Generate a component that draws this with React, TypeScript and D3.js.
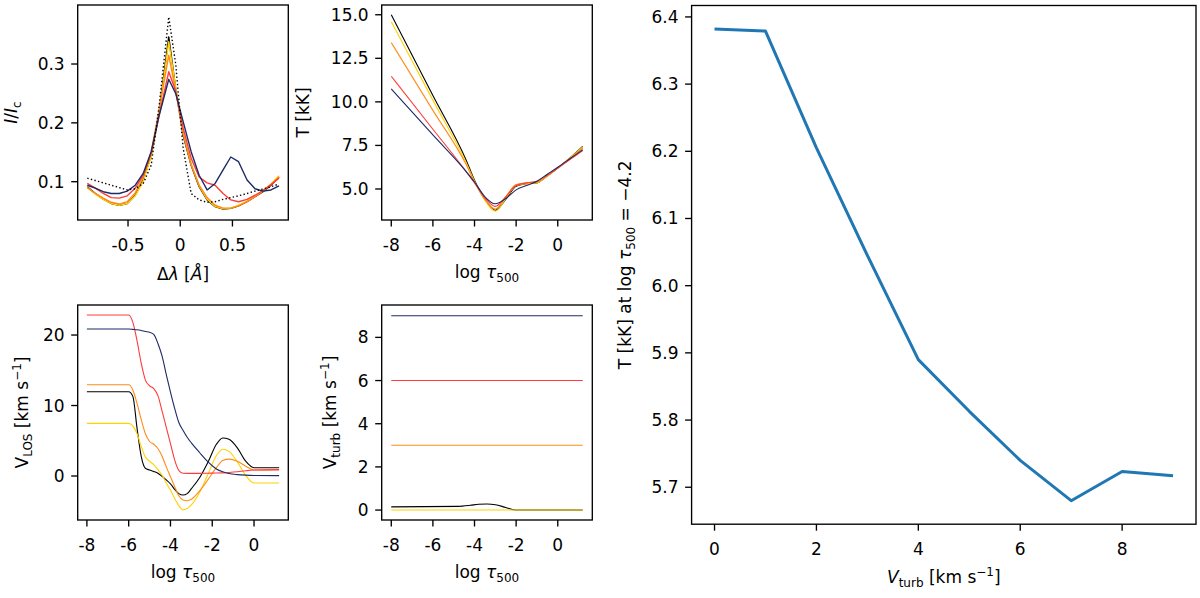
import React from "react";
import * as d3 from "d3";

// ---------- data ----------
const seriesColors = ["#000000", "#FFD200", "#FF8C1A", "#FF3B3B", "#1C2B66"];

// Top-left: line profiles
const wavelengths = [-0.89, -0.8135, -0.737, -0.6605, -0.584, -0.5075, -0.431, -0.3545, -0.278, -0.2015, -0.11, -0.0435, 0.028, 0.1045, 0.181, 0.2575, 0.334, 0.4105, 0.484, 0.5585, 0.64, 0.7165, 0.793, 0.8695, 0.946];
const profObs = [0.106, 0.102, 0.098, 0.094, 0.090, 0.086, 0.088, 0.097, 0.128, 0.230, 0.380, 0.300, 0.157, 0.080, 0.069, 0.065, 0.066, 0.070, 0.073, 0.076, 0.080, 0.084, 0.0875, 0.0915, 0.096];
const profBlack = [0.0915, 0.080, 0.0705, 0.063, 0.060, 0.063, 0.077, 0.103, 0.145, 0.219, 0.346, 0.258, 0.179, 0.128, 0.0915, 0.069, 0.0575, 0.0535, 0.0547, 0.059, 0.066, 0.0745, 0.083, 0.094, 0.1085];
const profYellow = [0.090, 0.079, 0.070, 0.063, 0.060, 0.063, 0.076, 0.101, 0.143, 0.218, 0.338, 0.260, 0.182, 0.130, 0.093, 0.070, 0.058, 0.054, 0.055, 0.060, 0.067, 0.076, 0.085, 0.096, 0.110];
const profOrange = [0.090, 0.080, 0.072, 0.065, 0.062, 0.066, 0.081, 0.108, 0.151, 0.222, 0.315, 0.254, 0.182, 0.129, 0.094, 0.073, 0.060, 0.055, 0.055, 0.059, 0.066, 0.0745, 0.084, 0.095, 0.1085];
const profRed = [0.097, 0.089, 0.080, 0.073, 0.072, 0.076, 0.089, 0.111, 0.148, 0.213, 0.287, 0.254, 0.191, 0.140, 0.108, 0.098, 0.094, 0.080, 0.069, 0.066, 0.070, 0.077, 0.085, 0.095, 0.106];
const profNavy = [0.094, 0.089, 0.083, 0.080, 0.080, 0.084, 0.094, 0.114, 0.151, 0.213, 0.274, 0.250, 0.202, 0.151, 0.111, 0.086, 0.097, 0.120, 0.142, 0.134, 0.103, 0.088, 0.084, 0.086, 0.093];

// Top-middle: temperature [kK]
const tauT = [-8, -6, -4.4, -4, -3.5, -3, -2.5, -2, -1.5, -1, -0.5, 0, 0.6, 1.2];
const tempBlack = [15.0, 10.36, 6.65, 5.5, 4.4, 3.78, 4.4, 5.15, 5.3, 5.35, 5.75, 6.2, 6.8, 7.45];
const tempYellow = [14.6, 10.1, 6.5, 5.45, 4.35, 3.72, 4.45, 5.2, 5.3, 5.35, 5.75, 6.2, 6.8, 7.42];
const tempOrange = [13.4, 9.51, 6.4, 5.4, 4.4, 3.85, 4.55, 5.25, 5.35, 5.4, 5.75, 6.2, 6.75, 7.35];
const tempRed = [11.47, 8.43, 6.0, 5.35, 4.5, 4.0, 4.55, 5.2, 5.35, 5.45, 5.8, 6.2, 6.7, 7.2];
const tempNavy = [10.74, 8.1, 6.0, 5.4, 4.55, 4.15, 4.45, 4.95, 5.2, 5.45, 5.85, 6.25, 6.75, 7.25];

// Bottom-left: line-of-sight velocity
const tauV = [-8, -6, -5.8, -5.6, -5.4, -5.2, -5.0, -4.8, -4.6, -4.4, -4.2, -4.0, -3.8, -3.6, -3.4, -3.2, -3.0, -2.6, -2.2, -1.8, -1.5, -1.2, -0.8, -0.4, 0, 1.2];
const vlosBlack = [11.96, 11.96, 11.3, 6.8, 2.8, 1.1, 0.85, 0.65, 0.4, -0.05, -0.55, -1.1, -1.9, -2.5, -2.7, -2.5, -1.8, -0.2, 2.0, 4.5, 5.4, 5.2, 4.0, 2.1, 1.18, 1.18];
const vlosYellow = [7.47, 7.47, 7.1, 6.0, 4.2, 2.7, 2.1, 1.6, 0.9, 0.1, -1.0, -2.0, -3.2, -4.2, -4.8, -4.6, -4.1, -2.3, 0.3, 2.9, 3.8, 3.5, 2.0, 0.1, -1.0, -1.0];
const vlosOrange = [12.95, 12.95, 12.2, 10.3, 8.0, 6.0, 4.9, 4.5, 3.9, 2.8, 1.3, -0.1, -1.5, -2.8, -3.4, -3.5, -3.3, -2.1, -0.5, 1.2, 2.2, 2.4, 2.1, 1.4, 0.85, 0.85];
const vlosRed = [22.84, 22.84, 21.8, 19.2, 16.0, 13.6, 12.8, 12.4, 11.4, 9.2, 6.9, 4.6, 2.3, 0.8, 0.4, 0.38, 0.38, 0.38, 0.4, 0.42, 0.45, 0.5, 0.6, 0.75, 0.85, 0.9];
const vlosNavy = [20.85, 20.85, 20.8, 20.75, 20.65, 20.5, 20.4, 20.1, 18.8, 17.0, 14.4, 11.9, 9.6, 7.6, 6.5, 5.5, 4.7, 3.3, 2.0, 1.0, 0.6, 0.35, 0.2, 0.12, 0.08, 0.05];

// Bottom-middle: micro-turbulence
const tauTurb = [-8, -4.8, -4.2, -3.8, -3.4, -3.0, -2.5, -2.0, 1.2];
const turbBlack = [0.15, 0.17, 0.22, 0.27, 0.28, 0.25, 0.12, 0.0, 0.0];
const turbYellow = [0, 0, 0, 0, 0, 0, 0, 0, 0];
const turbOrange = [3, 3, 3, 3, 3, 3, 3, 3, 3];
const turbRed = [6, 6, 6, 6, 6, 6, 6, 6, 6];
const turbNavy = [9, 9, 9, 9, 9, 9, 9, 9, 9];

// Right: T at log tau = -4.2 vs Vturb
const vturbValues = [0, 1, 2, 3, 4, 5, 6, 7, 8, 9];
const tempAtTau = [6.382, 6.379, 6.205, 6.045, 5.890, 5.813, 5.740, 5.680, 5.7235, 5.717];

// tick labels
const ticksProfX = [-0.5, 0, 0.5];
const ticksProfY = [0.1, 0.2, 0.3];
const ticksTau = [-8, -6, -4, -2, 0];
const ticksTempY = [5.0, 7.5, 10.0, 12.5, 15.0];
const ticksVlosY = [0, 10, 20];
const ticksTurbY = [0, 2, 4, 6, 8];
const ticksRightX = [0, 2, 4, 6, 8];
const ticksRightY = [5.7, 5.8, 5.9, 6.0, 6.1, 6.2, 6.3, 6.4];

// ---------- drawing ----------
const FONT = "'DejaVu Sans', sans-serif";
const FS = 17;
const SUB = 12;

type PanelProps = {
  left: number; top: number; width: number; height: number;
  xDomain: [number, number]; yDomain: [number, number];
  xTicks: number[]; yTicks: number[];
  xFmt: (v: number) => string; yFmt: (v: number) => string;
  xLabel: React.ReactNode; yLabel: React.ReactNode;
  xLabelY: number; yLabelX: number;
  draw: (x: d3.ScaleLinear<number, number>, y: d3.ScaleLinear<number, number>) => React.ReactNode;
};

function Panel(p: PanelProps) {
  const x = d3.scaleLinear().domain(p.xDomain).range([p.left, p.left + p.width]);
  const y = d3.scaleLinear().domain(p.yDomain).range([p.top + p.height, p.top]);
  const bottom = p.top + p.height;
  const tl = 6.5;
  return (
    <g>
      {p.draw(x, y)}
      <rect x={p.left} y={p.top} width={p.width} height={p.height} fill="none" stroke="#000" strokeWidth={1.35} />
      {p.xTicks.map((t) => (
        <g key={"x" + t}>
          <line x1={x(t)} x2={x(t)} y1={bottom} y2={bottom + tl} stroke="#000" strokeWidth={1.35} />
          <text x={x(t)} y={bottom + 31} textAnchor="middle" fontSize={FS} fontFamily={FONT}>{p.xFmt(t)}</text>
        </g>
      ))}
      {p.yTicks.map((t) => (
        <g key={"y" + t}>
          <line x1={p.left - tl} x2={p.left} y1={y(t)} y2={y(t)} stroke="#000" strokeWidth={1.35} />
          <text x={p.left - 13} y={y(t) + 6} textAnchor="end" fontSize={FS} fontFamily={FONT}>{p.yFmt(t)}</text>
        </g>
      ))}
      <text x={p.left + p.width / 2} y={p.xLabelY} textAnchor="middle" fontSize={FS} fontFamily={FONT}>{p.xLabel}</text>
      <text transform={`translate(${p.yLabelX},${p.top + p.height / 2}) rotate(-90)`} textAnchor="middle" fontSize={FS} fontFamily={FONT}>{p.yLabel}</text>
    </g>
  );
}

function lines(xs: number[], ys: number[][], x: any, y: any, width: number, curve: any) {
  const gen = d3.line<number>().x((_, i) => x(xs[i])).y((v) => y(v)).curve(curve);
  return ys.map((s, i) => (
    <path key={i} d={gen(s) || ""} fill="none" stroke={seriesColors[i]} strokeWidth={width} strokeLinejoin="round" />
  ));
}

const fmtPlain = (v: number) => String(v);
const fmt1 = (v: number) => v.toFixed(1);

const tauLabel = (
  <>log <tspan fontStyle="italic">τ</tspan><tspan fontSize={SUB} dy={4}>500</tspan></>
);

export default function App() {
  return (
    <svg width={1200} height={598} style={{ position: "absolute", left: 0, top: 0, background: "#fff" }}>
      <rect x={0} y={0} width={1200} height={598} fill="#fff" />
      {/* Top-left: profiles */}
      <Panel
        left={77.7} top={5} width={210.6} height={215}
        xDomain={[-0.982, 1.035]} yDomain={[0.0349, 0.4003]}
        xTicks={ticksProfX} yTicks={ticksProfY}
        xFmt={fmtPlain} yFmt={fmt1}
        xLabelY={280} yLabelX={17}
        xLabel={<>Δ<tspan fontStyle="italic">λ</tspan> [<tspan fontStyle="italic">Å</tspan>]</>}
        yLabel={<><tspan fontStyle="italic">I</tspan>/<tspan fontStyle="italic">I</tspan><tspan fontSize={SUB} dy={4}>c</tspan></>}
        draw={(x, y) => (
          <g>
            {lines(wavelengths, [profBlack, profYellow, profOrange, profRed, profNavy], x, y, 1.4, d3.curveLinear)}
            <path
              d={d3.line<number>().x((_, i) => x(wavelengths[i])).y((v) => y(v))(profObs) || ""}
              fill="none" stroke="#000" strokeWidth={1.4} strokeDasharray="1.4,2.3"
            />
          </g>
        )}
      />
      {/* Top-middle: temperature */}
      <Panel
        left={381.7} top={5} width={210.6} height={215}
        xDomain={[-8.46, 1.66]} yDomain={[3.22, 15.56]}
        xTicks={ticksTau} yTicks={ticksTempY}
        xFmt={fmtPlain} yFmt={fmt1}
        xLabelY={278} yLabelX={308.5}
        xLabel={tauLabel}
        yLabel={<>T [kK]</>}
        draw={(x, y) => lines(tauT, [tempBlack, tempYellow, tempOrange, tempRed, tempNavy], x, y, 1.1, d3.curveMonotoneX)}
      />
      {/* Bottom-left: VLOS */}
      <Panel
        left={77.7} top={305} width={210.6} height={215}
        xDomain={[-8.44, 1.64]} yDomain={[-6.24, 24.26]}
        xTicks={ticksTau} yTicks={ticksVlosY}
        xFmt={fmtPlain} yFmt={fmtPlain}
        xLabelY={578} yLabelX={28}
        xLabel={tauLabel}
        yLabel={<>V<tspan fontSize={SUB} dy={4}>LOS</tspan><tspan dy={-4}> [km s</tspan><tspan fontSize={SUB} dy={-7}>−1</tspan><tspan dy={7}>]</tspan></>}
        draw={(x, y) => lines(tauV, [vlosBlack, vlosYellow, vlosOrange, vlosRed, vlosNavy], x, y, 1.1, d3.curveMonotoneX)}
      />
      {/* Bottom-middle: Vturb */}
      <Panel
        left={381.7} top={305} width={210.6} height={215}
        xDomain={[-8.46, 1.66]} yDomain={[-0.46, 9.5]}
        xTicks={ticksTau} yTicks={ticksTurbY}
        xFmt={fmtPlain} yFmt={fmtPlain}
        xLabelY={578} yLabelX={336}
        xLabel={tauLabel}
        yLabel={<>V<tspan fontSize={SUB} dy={4}>turb</tspan><tspan dy={-4}> [km s</tspan><tspan fontSize={SUB} dy={-7}>−1</tspan><tspan dy={7}>]</tspan></>}
        draw={(x, y) => lines(tauTurb, [turbBlack, turbYellow, turbOrange, turbRed, turbNavy], x, y, 1.1, d3.curveMonotoneX)}
      />
      {/* Right: T at log tau = -4.2 */}
      <Panel
        left={691.6} top={5.5} width={504.4} height={518.7}
        xDomain={[-0.45, 9.45]} yDomain={[5.645, 6.417]}
        xTicks={ticksRightX} yTicks={ticksRightY}
        xFmt={fmtPlain} yFmt={fmt1}
        xLabelY={583} yLabelX={631}
        xLabel={<><tspan fontStyle="italic">V</tspan><tspan fontSize={SUB} dy={4}>turb</tspan><tspan dy={-4}> [km s</tspan><tspan fontSize={SUB} dy={-7}>−1</tspan><tspan dy={7}>]</tspan></>}
        yLabel={<>T [kK] at log <tspan fontStyle="italic">τ</tspan><tspan fontSize={SUB} dy={4}>500</tspan><tspan dy={-4}> = −4.2</tspan></>}
        draw={(x, y) => (
          <path
            d={d3.line<number>().x((_, i) => x(vturbValues[i])).y((v) => y(v))(tempAtTau) || ""}
            fill="none" stroke="#1f77b4" strokeWidth={3} strokeLinejoin="round"
          />
        )}
      />
    </svg>
  );
}
